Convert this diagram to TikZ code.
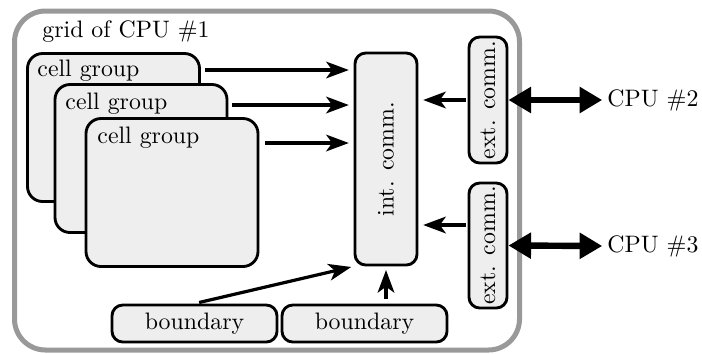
\documentclass[tikz,border=0pt]{standalone}
\usetikzlibrary{arrows.meta}
\newcommand\pxu{0.42pt}
\definecolor{boxfill}{HTML}{EEEEEE}
\definecolor{framegray}{HTML}{999999}
\begin{document}
\begin{tikzpicture}[x=0.42pt,y=-0.42pt,
  box/.style={draw=black, line width=1.2pt, fill=boxfill, inner sep=0pt},
  cellbox/.style={box, rounded corners=6.3pt, minimum width=172*\pxu, minimum height=148*\pxu},
  vbox/.style={box, rounded corners=4.5pt},
  bbox/.style={box, rounded corners=4.5pt, minimum width=165*\pxu, minimum height=37*\pxu},
  lbl/.style={inner sep=0pt, font=\normalsize},
  arr/.style={line width=1.35pt, -{Stealth[length=9.5pt,width=7pt,inset=2.5pt]}},
  darr/.style={line width=2.7pt, {Triangle[length=9.5pt,width=10.5pt]}-{Triangle[length=9.5pt,width=10.5pt]}}
]
\useasboundingbox (0,0) rectangle (702,353);
% outer frame
\node[draw=framegray, line width=2.1pt, rounded corners=13pt, fill=white,
      minimum width=505*\pxu, minimum height=339*\pxu, inner sep=0pt] (frame) at (267,180.5) {};
\node[lbl, anchor=base west] (title) at (42,37) {grid of CPU \#1};
% cell groups
\node[cellbox] (g1) at (113.5,127.5) {};
\node[lbl, anchor=base west] (t1) at (37,76) {cell group};
\node[cellbox] (g2) at (141,158.5) {};
\node[lbl, anchor=base west] (t2) at (65,109) {cell group};
\node[cellbox] (g3) at (172,192.5) {};
\node[lbl, anchor=base west] (t3) at (97,143) {cell group};
% int comm
\node[vbox, minimum width=62*\pxu, minimum height=212*\pxu] (ic) at (386,159) {};
\node[lbl, rotate=90] (ict) at (ic) {int. comm.};
% ext comm
\node[vbox, minimum width=38*\pxu, minimum height=126*\pxu] (e1) at (488,100) {};
\node[lbl, rotate=90] (e1t) at (e1) {ext. comm.};
\node[vbox, minimum width=38*\pxu, minimum height=125*\pxu] (e2) at (488,245.5) {};
\node[lbl, rotate=90] (e2t) at (e2) {ext. comm.};
% boundaries
\node[bbox] (b1) at (194.5,323.5) {};
\node[lbl] (b1t) at (b1) {boundary};
\node[bbox] (b2) at (364.5,323.5) {};
\node[lbl] (b2t) at (b2) {boundary};
% CPUs
\node[lbl, anchor=west] (c2) at (607,100) {CPU \#2};
\node[lbl, anchor=west] (c3) at (607,246) {CPU \#3};
% arrows from cell groups
\coordinate (a1) at (205,70);
\coordinate (a2) at (232,105);
\coordinate (a3) at (265,143);
\draw[arr, shorten >=2pt] (a1) -- (a1 -| ic.west);
\draw[arr, shorten >=2pt] (a2) -- (a2 -| ic.west);
\draw[arr, shorten >=2pt] (a3) -- (a3 -| ic.west);
% ext to int
\coordinate (x1) at (466,100);
\coordinate (x2) at (466,225);
\draw[arr, shorten >=2pt] (x1) -- (x1 -| ic.east);
\draw[arr, shorten >=2pt] (x2) -- (x2 -| ic.east);
% boundary arrows
\draw[arr, shorten <=2pt, shorten >=1pt] (b1.north) -- (ic.south west);
\draw[arr, shorten <=2pt, shorten >=1.5pt] (b2.north -| ic.south) -- (ic.south);
% external double arrows
\draw[darr, shorten >=2pt] (e1.east) -- (c2.west);
\draw[darr, shorten >=2pt] (e2.east) -- (c3.west);
\end{tikzpicture}
\end{document}
